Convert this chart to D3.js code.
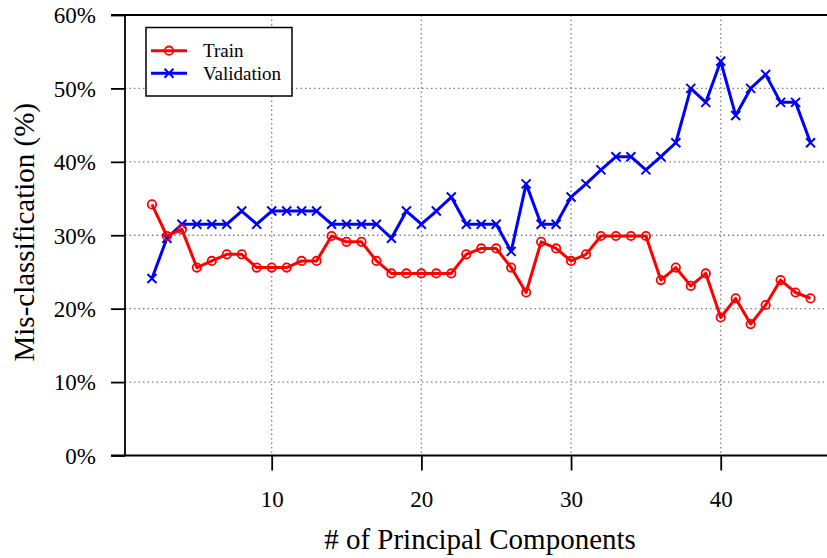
<!DOCTYPE html>
<html>
<head>
<meta charset="utf-8">
<script src="https://cdn.jsdelivr.net/npm/d3@7"></script>
<style>
  html, body { margin: 0; padding: 0; background: #fff; }
  svg text { font-family: "Liberation Serif", "Times New Roman", Times, Tinos, "DejaVu Serif", serif !important; }
</style>
</head>
<body>
<svg id="chart" width="827" height="558"></svg>
<script>
// Number of principal components kept
const components = d3.range(2, 47);

// Training mis-classification rate (%)
const trainError = [
  34.2, 29.9, 30.8, 25.6, 26.5, 27.4, 27.4, 25.6, 25.6, 25.6,
  26.5, 26.5, 29.9, 29.1, 29.1, 26.5, 24.8, 24.8, 24.8, 24.8,
  24.8, 27.4, 28.2, 28.2, 25.6, 22.2, 29.1, 28.2, 26.5, 27.4,
  29.9, 29.9, 29.9, 29.9, 23.9, 25.6, 23.1, 24.8, 18.8, 21.4,
  17.9, 20.5, 23.9, 22.2, 21.4
];

// Validation mis-classification rate (%)
const validationError = [
  24.1, 29.6, 31.5, 31.5, 31.5, 31.5, 33.3, 31.5, 33.3, 33.3,
  33.3, 33.3, 31.5, 31.5, 31.5, 31.5, 29.6, 33.3, 31.5, 33.3,
  35.2, 31.5, 31.5, 31.5, 27.8, 37.0, 31.5, 31.5, 35.2, 37.0,
  38.9, 40.7, 40.7, 38.9, 40.7, 42.6, 50.0, 48.1, 53.7, 46.3,
  50.0, 51.9, 48.1, 48.1, 42.6
];

const xTicks = [10, 20, 30, 40];
const yTicks = [0, 10, 20, 30, 40, 50, 60];
const seriesNames = ["Train", "Validation"];

const svg = d3.select("#chart");
const W = 827;
const plotLeft = 125, plotTop = 15, plotBottom = 455.5, frameStart = 111;

const x = d3.scaleLinear().domain([0.2, 47.1]).range([plotLeft, W]);
const y = d3.scaleLinear().domain([0, 60]).range([plotBottom, plotTop]);

// Dotted grid
const grid = svg.append("g")
  .attr("stroke", "#808080")
  .attr("stroke-width", 1.3)
  .attr("stroke-dasharray", "1.5,3");
grid.selectAll("line.gx").data(xTicks).join("line")
  .attr("x1", d => x(d)).attr("x2", d => x(d))
  .attr("y1", plotTop).attr("y2", plotBottom);
grid.selectAll("line.gy").data(yTicks.filter(v => v > 0 && v < 60)).join("line")
  .attr("x1", plotLeft).attr("x2", W)
  .attr("y1", d => y(d)).attr("y2", d => y(d));

// Axes
const yAxis = d3.axisLeft(y).tickValues(yTicks)
  .tickFormat(d => d + "%").tickSize(14).tickPadding(15);
const gy = svg.append("g").attr("transform", `translate(${plotLeft},0)`).call(yAxis);
gy.select(".domain").remove();
gy.selectAll(".tick line").attr("stroke", "#000").attr("stroke-width", 1.8);
gy.selectAll(".tick text")
  .attr("font-size", 23).attr("fill", "#000").attr("dy", "0.34em");

const xAxis = d3.axisBottom(x).tickValues(xTicks)
  .tickFormat(d3.format("d")).tickSize(15).tickPadding(20);
const gx = svg.append("g").attr("transform", `translate(0,${plotBottom})`).call(xAxis);
gx.select(".domain").remove();
gx.selectAll(".tick line").attr("stroke", "#000").attr("stroke-width", 1.8);
gx.selectAll(".tick text")
  .attr("font-size", 23).attr("fill", "#000");

// Frame lines
const frame = svg.append("g").attr("stroke", "#000").attr("stroke-width", 1.8);
frame.append("line").attr("x1", frameStart).attr("x2", W).attr("y1", plotBottom).attr("y2", plotBottom);
frame.append("line").attr("x1", frameStart).attr("x2", W).attr("y1", plotTop).attr("y2", plotTop);
frame.append("line").attr("x1", plotLeft).attr("x2", plotLeft).attr("y1", plotTop).attr("y2", plotBottom);

// Axis titles
svg.append("text")
  .attr("x", (plotLeft + W) / 2 + 4).attr("y", 549)
  .attr("text-anchor", "middle").attr("font-size", 29).attr("fill", "#000")
  .text("# of Principal Components");
svg.append("text")
  .attr("transform", `translate(34,${(plotTop + plotBottom) / 2 - 3}) rotate(-90)`)
  .attr("text-anchor", "middle").attr("font-size", 29).attr("fill", "#000")
  .text("Mis-classification (%)");

// Series
const line = d3.line().x(d => x(d[0])).y(d => y(d[1]));
const trainPts = components.map((c, i) => [c, trainError[i]]);
const valPts = components.map((c, i) => [c, validationError[i]]);

function drawCross(g, cx, cy, s, color) {
  g.append("path")
    .attr("d", `M${cx - s},${cy - s}L${cx + s},${cy + s}M${cx - s},${cy + s}L${cx + s},${cy - s}`)
    .attr("stroke", color).attr("stroke-width", 2).attr("fill", "none");
}

svg.append("path").datum(valPts).attr("d", line)
  .attr("fill", "none").attr("stroke", "#0000ff").attr("stroke-width", 3)
  .attr("stroke-linejoin", "round");
const valMarks = svg.append("g");
valPts.forEach(p => drawCross(valMarks, x(p[0]), y(p[1]), 4.5, "#0000ff"));

svg.append("path").datum(trainPts).attr("d", line)
  .attr("fill", "none").attr("stroke", "#ff0000").attr("stroke-width", 3)
  .attr("stroke-linejoin", "round");
svg.append("g").selectAll("circle").data(trainPts).join("circle")
  .attr("cx", d => x(d[0])).attr("cy", d => y(d[1])).attr("r", 4.2)
  .attr("fill", "none").attr("stroke", "#ff0000").attr("stroke-width", 1.8);

// Legend
const lg = svg.append("g");
lg.append("rect").attr("x", 146).attr("y", 27.5).attr("width", 146).attr("height", 68.5)
  .attr("fill", "#fff").attr("stroke", "#000").attr("stroke-width", 1.5);
const rows = [50.7, 73.3];
seriesNames.forEach((name, i) => {
  const cy = rows[i];
  const color = i === 0 ? "#ff0000" : "#0000ff";
  lg.append("line").attr("x1", 151).attr("x2", 187).attr("y1", cy).attr("y2", cy)
    .attr("stroke", color).attr("stroke-width", 3);
  if (i === 0) {
    lg.append("circle").attr("cx", 169).attr("cy", cy).attr("r", 4.2)
      .attr("fill", "none").attr("stroke", color).attr("stroke-width", 1.8);
  } else {
    drawCross(lg, 169, cy, 4.5, color);
  }
  lg.append("text").attr("x", 203).attr("y", cy).attr("dy", "0.35em")
    .attr("font-size", 19).attr("fill", "#000").text(name);
});
</script>
</body>
</html>
